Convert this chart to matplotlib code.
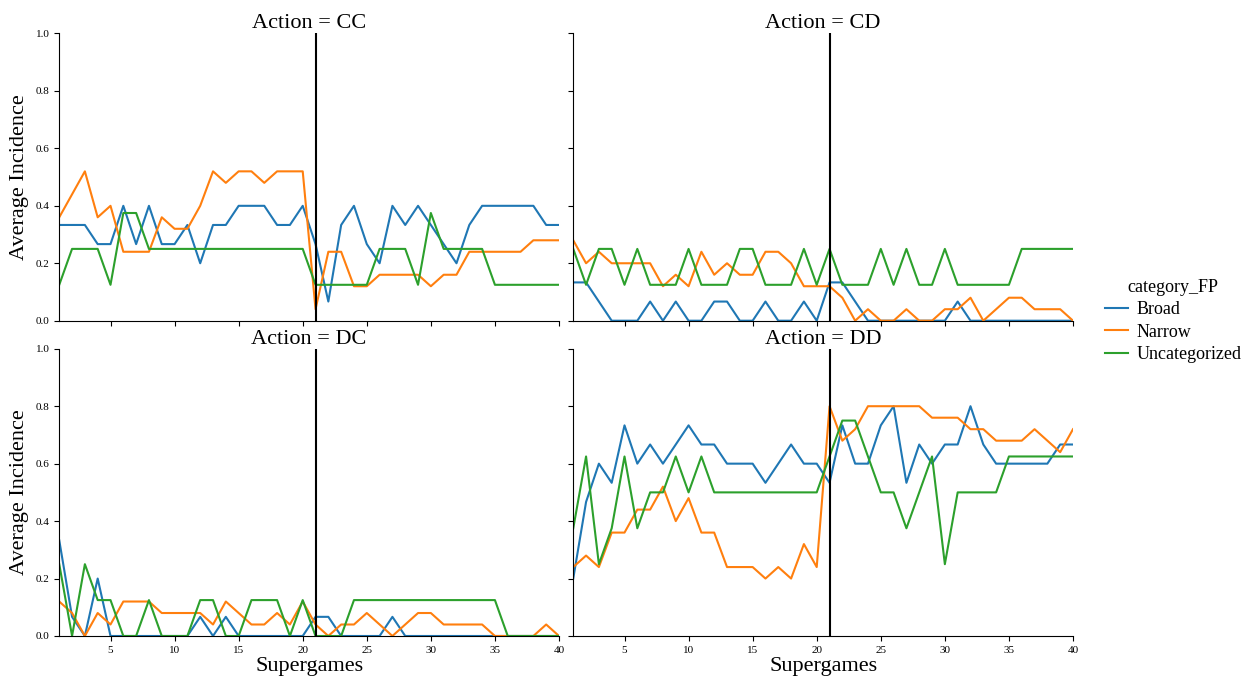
import numpy as np
import matplotlib
matplotlib.use("agg")
import matplotlib.pyplot as plt

plt.rcParams['font.family'] = ['Liberation Serif', 'DejaVu Serif']

# ------------------------------------------------------
#                   Data
# ------------------------------------------------------
supergames = list(range(1, 41))
categories = ["Broad", "Narrow", "Uncategorized"]
colors = ["#1f77b4", "#ff7f0e", "#2ca02c"]
actions = ["CC", "CD", "DC", "DD"]
cutoff = 21

t = 1 / 15  # broad group share step

broad_cc = [5*t, 5*t, 5*t, 4*t, 4*t, 6*t, 4*t, 6*t, 4*t, 4*t, 5*t, 3*t, 5*t, 5*t, 6*t, 6*t, 6*t, 5*t, 5*t, 6*t,
            4*t, 1*t, 5*t, 6*t, 4*t, 3*t, 6*t, 5*t, 6*t, 5*t, 4*t, 3*t, 5*t, 6*t, 6*t, 6*t, 6*t, 6*t, 5*t, 5*t]
narrow_cc = [0.36, 0.44, 0.52, 0.36, 0.40, 0.24, 0.24, 0.24, 0.36, 0.32, 0.32, 0.40, 0.52, 0.48, 0.52, 0.52, 0.48, 0.52, 0.52, 0.52,
             0.04, 0.24, 0.24, 0.12, 0.12, 0.16, 0.16, 0.16, 0.16, 0.12, 0.16, 0.16, 0.24, 0.24, 0.24, 0.24, 0.24, 0.28, 0.28, 0.28]
uncat_cc = [0.125, 0.25, 0.25, 0.25, 0.125, 0.375, 0.375, 0.25, 0.25, 0.25, 0.25, 0.25, 0.25, 0.25, 0.25, 0.25, 0.25, 0.25, 0.25, 0.25,
            0.125, 0.125, 0.125, 0.125, 0.125, 0.25, 0.25, 0.25, 0.125, 0.375, 0.25, 0.25, 0.25, 0.25, 0.125, 0.125, 0.125, 0.125, 0.125, 0.125]

broad_cd = [2*t, 2*t, 1*t, 0, 0, 0, 1*t, 0, 1*t, 0, 0, 1*t, 1*t, 0, 0, 1*t, 0, 0, 1*t, 0,
            2*t, 2*t, 1*t, 0, 0, 0, 0, 0, 0, 0, 1*t, 0, 0, 0, 0, 0, 0, 0, 0, 0]
narrow_cd = [0.28, 0.20, 0.24, 0.20, 0.20, 0.20, 0.20, 0.12, 0.16, 0.12, 0.24, 0.16, 0.20, 0.16, 0.16, 0.24, 0.24, 0.20, 0.12, 0.12,
             0.12, 0.08, 0.00, 0.04, 0.00, 0.00, 0.04, 0.00, 0.00, 0.04, 0.04, 0.08, 0.00, 0.04, 0.08, 0.08, 0.04, 0.04, 0.04, 0.00]
uncat_cd = [0.25, 0.125, 0.25, 0.25, 0.125, 0.25, 0.125, 0.125, 0.125, 0.25, 0.125, 0.125, 0.125, 0.25, 0.25, 0.125, 0.125, 0.125, 0.25, 0.125,
            0.25, 0.125, 0.125, 0.125, 0.25, 0.125, 0.25, 0.125, 0.125, 0.25, 0.125, 0.125, 0.125, 0.125, 0.125, 0.25, 0.25, 0.25, 0.25, 0.25]

broad_dc = [5*t, 1*t, 0, 3*t, 0, 0, 0, 0, 0, 0, 0, 1*t, 0, 1*t, 0, 0, 0, 0, 0, 0,
            1*t, 1*t, 0, 0, 0, 0, 1*t, 0, 0, 0, 0, 0, 0, 0, 0, 0, 0, 0, 0, 0]
narrow_dc = [0.12, 0.08, 0.00, 0.08, 0.04, 0.12, 0.12, 0.12, 0.08, 0.08, 0.08, 0.08, 0.04, 0.12, 0.08, 0.04, 0.04, 0.08, 0.04, 0.12,
             0.04, 0.00, 0.04, 0.04, 0.08, 0.04, 0.00, 0.04, 0.08, 0.08, 0.04, 0.04, 0.04, 0.04, 0.00, 0.00, 0.00, 0.00, 0.04, 0.00]
uncat_dc = [0.25, 0.0, 0.25, 0.125, 0.125, 0.0, 0.0, 0.125, 0.0, 0.0, 0.0, 0.125, 0.125, 0.0, 0.0, 0.125, 0.125, 0.125, 0.0, 0.125,
            0.0, 0.0, 0.0, 0.125, 0.125, 0.125, 0.125, 0.125, 0.125, 0.125, 0.125, 0.125, 0.125, 0.125, 0.125, 0.0, 0.0, 0.0, 0.0, 0.0]

broad_dd = [3*t, 7*t, 9*t, 8*t, 11*t, 9*t, 10*t, 9*t, 10*t, 11*t, 10*t, 10*t, 9*t, 9*t, 9*t, 8*t, 9*t, 10*t, 9*t, 9*t,
            8*t, 11*t, 9*t, 9*t, 11*t, 12*t, 8*t, 10*t, 9*t, 10*t, 10*t, 12*t, 10*t, 9*t, 9*t, 9*t, 9*t, 9*t, 10*t, 10*t]
narrow_dd = [0.24, 0.28, 0.24, 0.36, 0.36, 0.44, 0.44, 0.52, 0.40, 0.48, 0.36, 0.36, 0.24, 0.24, 0.24, 0.20, 0.24, 0.20, 0.32, 0.24,
             0.80, 0.68, 0.72, 0.80, 0.80, 0.80, 0.80, 0.80, 0.76, 0.76, 0.76, 0.72, 0.72, 0.68, 0.68, 0.68, 0.72, 0.68, 0.64, 0.72]
uncat_dd = [0.375, 0.625, 0.25, 0.375, 0.625, 0.375, 0.5, 0.5, 0.625, 0.5, 0.625, 0.5, 0.5, 0.5, 0.5, 0.5, 0.5, 0.5, 0.5, 0.5,
            0.625, 0.75, 0.75, 0.625, 0.5, 0.5, 0.375, 0.5, 0.625, 0.25, 0.5, 0.5, 0.5, 0.5, 0.625, 0.625, 0.625, 0.625, 0.625, 0.625]

panel_data = {
    "CC": [broad_cc, narrow_cc, uncat_cc],
    "CD": [broad_cd, narrow_cd, uncat_cd],
    "DC": [broad_dc, narrow_dc, uncat_dc],
    "DD": [broad_dd, narrow_dd, uncat_dd],
}

# ------------------------------------------------------
#                   Figure
# ------------------------------------------------------
fig = plt.figure(figsize=(12.5, 6.86), dpi=100)
w, h = 0.3998, 0.4187
positions = {
    "CC": [0.0474, 0.5325, w, h],
    "CD": [0.4586, 0.5325, w, h],
    "DC": [0.0474, 0.0729, w, h],
    "DD": [0.4586, 0.0729, w, h],
}

for i, act in enumerate(actions):
    ax = fig.add_axes(positions[act])
    for cat, col, vals in zip(categories, colors, panel_data[act]):
        ax.plot(supergames, vals, color=col, lw=1.5, label=cat)
    ax.axvline(cutoff, color='k', lw=1.5)
    ax.set_xlim(1, 40)
    ax.set_ylim(0, 1)
    ax.set_xticks([5, 10, 15, 20, 25, 30, 35, 40])
    ax.set_yticks([0.0, 0.2, 0.4, 0.6, 0.8, 1.0])
    ax.tick_params(labelsize=8)
    for s in ["top", "right"]:
        ax.spines[s].set_visible(False)
    ax.set_title(f"Action = {act}", fontsize=16, pad=1)
    if i < 2:
        ax.tick_params(labelbottom=False)
    else:
        ax.set_xlabel("Supergames", fontsize=16, labelpad=2)
    if i % 2 == 1:
        ax.tick_params(labelleft=False)
    else:
        ax.set_ylabel("Average Incidence", fontsize=16, labelpad=5)
    if i == 0:
        handles, labels = ax.get_legend_handles_labels()

fig.legend(handles, labels, title="category_FP", loc="center left",
           bbox_to_anchor=(0.871, 0.532), frameon=False, fontsize=13,
           title_fontsize=13, handlelength=1.3, handletextpad=0.45,
           labelspacing=0.3)

fig.savefig("out.png", dpi=100)
plt.close(fig)
